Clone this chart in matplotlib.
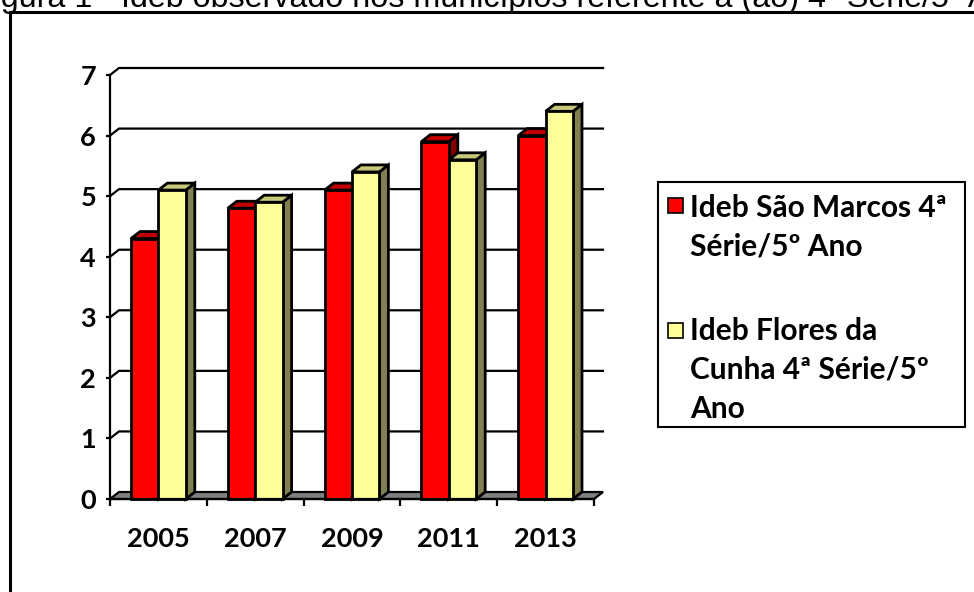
import matplotlib.pyplot as plt
from matplotlib.patches import Polygon, Rectangle
from matplotlib.lines import Line2D

# dados
anos = ['2005', '2007', '2009', '2011', '2013']
sao_marcos = [4.3, 4.8, 5.1, 5.9, 6.0]
flores_cunha = [5.1, 4.9, 5.4, 5.6, 6.4]
legenda_sm = ['Ideb São Marcos 4ª', 'Série/5º Ano']
legenda_fc = ['Ideb Flores da', 'Cunha 4ª Série/5º', 'Ano']
titulo = 'Figura 1 - Ideb observado nos municípios referente à (ao) 4ª Série/5º Ano'

W, H = 974, 592
fig = plt.figure(figsize=(W / 100, H / 100), dpi=100)


def px(x, y):
    return x / W, 1 - y / H


# cores (frente, topo, lado)
cor_sm = ('#FF0000', '#C00000', '#800000')
cor_fc = ('#FFFF99', '#C8C87A', '#808050')

# profundidade 3D em unidades de dados
dx = 9 / 96.8
dy = 7 / 60.6
larg = 0.283

ax = fig.add_axes([110 / W, 93 / H, 484 / W, 424 / H])
ax.set_xlim(0, len(anos))
ax.set_ylim(0, 7)
for s in ['top', 'right']:
    ax.spines[s].set_visible(False)
ax.spines['left'].set_linewidth(1.6)
ax.spines['bottom'].set_linewidth(1.6)
ax.spines['left'].set_zorder(6)
ax.spines['bottom'].set_zorder(6)

# linhas de grade na parede do fundo
for v in range(1, 8):
    ax.add_line(Line2D([0, dx, len(anos) + dx], [v, v + dy, v + dy],
                       color='black', lw=1.6, clip_on=False, zorder=1))

# piso
ax.add_patch(Polygon([(0, 0), (len(anos), 0), (len(anos) + dx, dy), (dx, dy)],
                     closed=True, facecolor='#808080', edgecolor='black',
                     lw=1.6, clip_on=False, zorder=2))


def barra3d(x0, h, cores):
    kw = dict(edgecolor='black', lw=2, clip_on=False, zorder=3, joinstyle='miter')
    ax.add_patch(Polygon([(x0 + larg, 0), (x0 + larg + dx, dy),
                          (x0 + larg + dx, h + dy), (x0 + larg, h)],
                         closed=True, facecolor=cores[2], **kw))
    ax.add_patch(Polygon([(x0, h), (x0 + larg, h), (x0 + larg + dx, h + dy),
                          (x0 + dx, h + dy)], closed=True, facecolor=cores[1], **kw))
    ax.add_patch(Rectangle((x0, 0), larg, h, facecolor=cores[0], **kw))


for i in range(len(anos)):
    centro = i + 0.5
    barra3d(centro - larg, sao_marcos[i], cor_sm)
    barra3d(centro, flores_cunha[i], cor_fc)

fonte = dict(family='Lato', weight='bold', size=19.5)
fonte_leg = dict(family='Lato', weight='bold', size=21.5)

ax.set_yticks(range(0, 8))
ax.set_yticklabels([str(v) for v in range(0, 8)], **fonte)
ax.tick_params(axis='y', length=3, width=1.6, pad=7)

ax.set_xticks(range(0, len(anos) + 1))
ax.set_xticklabels([])
ax.tick_params(axis='x', which='major', length=5, width=1.6)
ax.set_xticks([i + 0.5 for i in range(len(anos))], minor=True)
ax.set_xticklabels(anos, minor=True, **fonte)
ax.tick_params(axis='x', which='minor', length=0, pad=20)

# legenda desenhada a mao
fig.add_artist(Rectangle(px(658, 427), 307 / W, 245 / H, transform=fig.transFigure,
                         facecolor='none', edgecolor='black', lw=1.5))
fig.add_artist(Rectangle(px(668, 213), 15 / W, 15 / H, transform=fig.transFigure,
                         facecolor=cor_sm[0], edgecolor='black', lw=1.2))
fig.add_artist(Rectangle(px(668, 338), 15 / W, 15 / H, transform=fig.transFigure,
                         facecolor=cor_fc[0], edgecolor='black', lw=1.2))
for k, linha in enumerate(legenda_sm):
    fig.text(*px(690, 217 + k * 38.5), linha, va='baseline', ha='left', **fonte_leg)
for k, linha in enumerate(legenda_fc):
    fig.text(*px(690, 340 + k * 39), linha, va='baseline', ha='left', **fonte_leg)

# moldura externa (cortada na imagem)
fig.add_artist(Line2D([10 / W, 1.01], [1 - 12 / H, 1 - 12 / H],
                      transform=fig.transFigure, color='black', lw=2.2))
fig.add_artist(Line2D([10 / W, 10 / W], [-0.01, 1 - 12 / H],
                      transform=fig.transFigure, color='black', lw=2.2))

# titulo cortado no topo: posiciona para que "Série" comece perto de x=847
fonte_tit = dict(family='Liberation Sans', size=23.2)
r = fig.canvas.get_renderer()
tmp = fig.text(0, 0, titulo[:titulo.index('Série')], **fonte_tit)
larg_pref = tmp.get_window_extent(renderer=r).width
tmp.remove()
fig.text((847 - larg_pref) / W, 1 - 7.5 / H, titulo, va='baseline', ha='left',
         **fonte_tit)

fig.savefig('out.png', dpi=100)
